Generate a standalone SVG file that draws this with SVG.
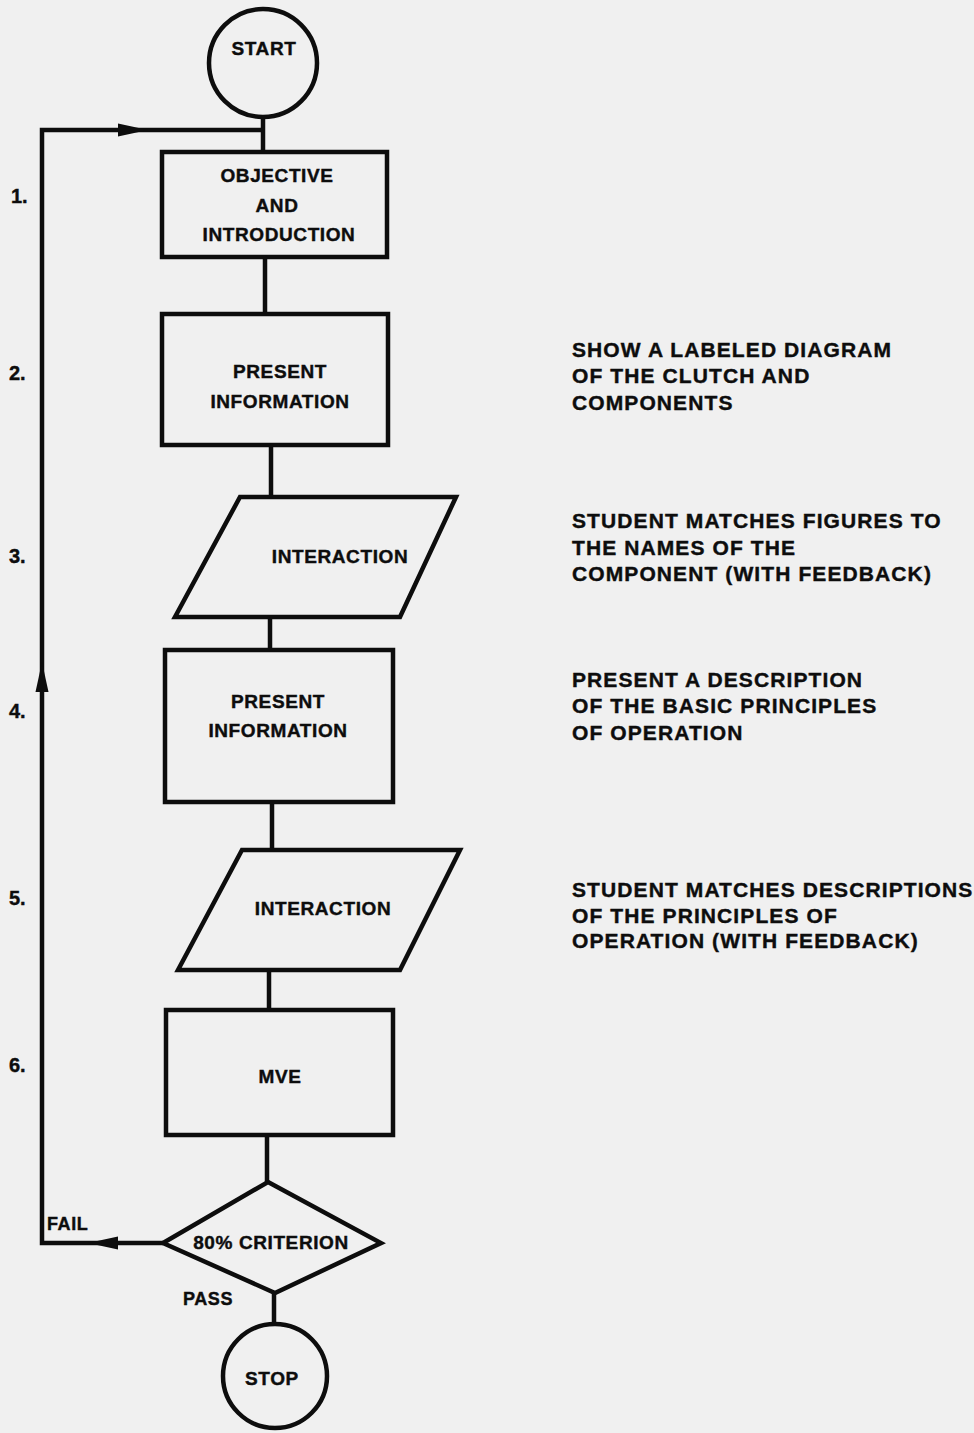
<svg xmlns="http://www.w3.org/2000/svg" width="974" height="1433" viewBox="0 0 974 1433">
<style>
.shape{fill:none;stroke:#0d0d0d;stroke-width:4.5;stroke-linejoin:miter}
.conn{fill:none;stroke:#0d0d0d;stroke-width:4.5}
.lbl{font-family:"Liberation Sans",Arial,sans-serif;font-weight:bold;font-size:19px;letter-spacing:0.6px;fill:#0d0d0d;stroke:#0d0d0d;stroke-width:0.4;text-anchor:middle}
.side{font-family:"Liberation Sans",Arial,sans-serif;font-weight:bold;font-size:21px;letter-spacing:1.1px;fill:#0d0d0d;stroke:#0d0d0d;stroke-width:0.4}
.num{font-family:"Liberation Sans",Arial,sans-serif;font-weight:bold;font-size:20px;fill:#0d0d0d;stroke:#0d0d0d;stroke-width:0.4}
.small{font-family:"Liberation Sans",Arial,sans-serif;font-weight:bold;font-size:18px;letter-spacing:0.6px;fill:#0d0d0d;stroke:#0d0d0d;stroke-width:0.4}
</style>
<defs>
<path id="ah" d="M0,0 L-30,-6.5 L-30,6.5 Z" fill="#0d0d0d"/>
</defs>
<rect x="0" y="0" width="974" height="1433" fill="#f0f0f0"/>

<g id="connectors">
<path class="conn" d="M263,117 V152"/>
<path class="conn" d="M265,257 V314"/>
<path class="conn" d="M271,445 V497"/>
<path class="conn" d="M270,617 V650"/>
<path class="conn" d="M272,802 V850"/>
<path class="conn" d="M269,970 V1010"/>
<path class="conn" d="M267,1135 V1182"/>
<path class="conn" d="M274,1293 V1323"/>
<path class="conn" d="M163,1243 H42 V130 H263"/>
<use href="#ah" transform="translate(148,130)"/>
<use href="#ah" transform="translate(42,662) rotate(-90)"/>
<use href="#ah" transform="translate(88,1243) rotate(180)"/>
<text class="small" x="47" y="1230">FAIL</text>
<text class="small" x="183" y="1305">PASS</text>
</g>

<g id="start">
<circle class="shape" cx="263" cy="63" r="54"/>
<text class="lbl" x="264" y="55">START</text>
</g>

<g id="step1">
<rect class="shape" x="162" y="152" width="225" height="105"/>
<text class="lbl" x="277" y="182">OBJECTIVE</text>
<text class="lbl" x="277" y="212">AND</text>
<text class="lbl" x="279" y="241">INTRODUCTION</text>
</g>

<g id="step2">
<rect class="shape" x="162" y="314" width="226" height="131"/>
<text class="lbl" x="280" y="378">PRESENT</text>
<text class="lbl" x="280" y="408">INFORMATION</text>
</g>

<g id="step3">
<polygon class="shape" points="240,497 456,497 400,617 175,617"/>
<text class="lbl" x="340" y="563">INTERACTION</text>
</g>

<g id="step4">
<rect class="shape" x="165" y="650" width="228" height="152"/>
<text class="lbl" x="278" y="708">PRESENT</text>
<text class="lbl" x="278" y="737">INFORMATION</text>
</g>

<g id="step5">
<polygon class="shape" points="242,850 460,850 400,970 178,970"/>
<text class="lbl" x="323" y="915">INTERACTION</text>
</g>

<g id="step6">
<rect class="shape" x="166" y="1010" width="227" height="125"/>
<text class="lbl" x="280" y="1083">MVE</text>
</g>

<g id="criterion">
<polygon class="shape" points="268,1182 381,1243 275,1293 163,1243"/>
<text class="lbl" x="271" y="1249">80% CRITERION</text>
</g>

<g id="stop">
<circle class="shape" cx="275" cy="1376" r="52"/>
<text class="lbl" x="272" y="1385">STOP</text>
</g>

<g id="numbers">
<text class="num" x="11" y="203">1.</text>
<text class="num" x="9" y="380">2.</text>
<text class="num" x="9" y="563">3.</text>
<text class="num" x="9" y="718">4.</text>
<text class="num" x="9" y="905">5.</text>
<text class="num" x="9" y="1072">6.</text>
</g>

<g id="notes">
<text class="side" x="572" y="357">SHOW A LABELED DIAGRAM</text>
<text class="side" x="572" y="383">OF THE CLUTCH AND</text>
<text class="side" x="572" y="410">COMPONENTS</text>
<text class="side" x="572" y="528">STUDENT MATCHES FIGURES TO</text>
<text class="side" x="572" y="555">THE NAMES OF THE</text>
<text class="side" x="572" y="581">COMPONENT (WITH FEEDBACK)</text>
<text class="side" x="572" y="687">PRESENT A DESCRIPTION</text>
<text class="side" x="572" y="713">OF THE BASIC PRINCIPLES</text>
<text class="side" x="572" y="740">OF OPERATION</text>
<text class="side" x="572" y="897">STUDENT MATCHES DESCRIPTIONS</text>
<text class="side" x="572" y="923">OF THE PRINCIPLES OF</text>
<text class="side" x="572" y="948">OPERATION (WITH FEEDBACK)</text>
</g>
</svg>
